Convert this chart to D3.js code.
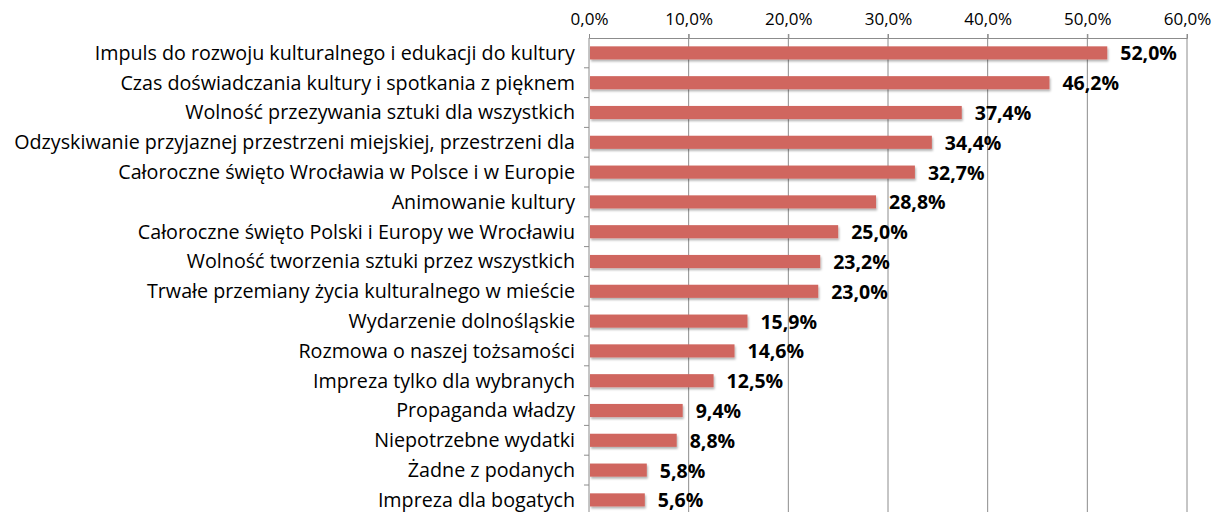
<!DOCTYPE html>
<html>
<head>
<meta charset="utf-8">
<script src="https://cdn.jsdelivr.net/npm/d3@7"></script>
<style>
  body { margin: 0; background: #fff; }
  text { font-family: "Open Sans", sans-serif; }
</style>
</head>
<body>
<script>
// categories and values
var categories = [
    "Impuls do rozwoju kulturalnego i edukacji do kultury",
    "Czas doświadczania kultury i spotkania z pięknem",
    "Wolność przezywania sztuki dla wszystkich",
    "Odzyskiwanie przyjaznej przestrzeni miejskiej, przestrzeni dla",
    "Całoroczne święto Wrocławia w Polsce i w Europie",
    "Animowanie kultury",
    "Całoroczne święto Polski i Europy we Wrocławiu",
    "Wolność tworzenia sztuki przez wszystkich",
    "Trwałe przemiany życia kulturalnego w mieście",
    "Wydarzenie dolnośląskie",
    "Rozmowa o naszej tożsamości",
    "Impreza tylko dla wybranych",
    "Propaganda władzy",
    "Niepotrzebne wydatki",
    "Żadne z podanych",
    "Impreza dla bogatych"
];
var values = [52.0, 46.2, 37.4, 34.4, 32.7, 28.8, 25.0, 23.2, 23.0, 15.9, 14.6, 12.5, 9.4, 8.8, 5.8, 5.6];
var tickValues = [0, 10, 20, 30, 40, 50, 60];

var fmt = function (v) { return v.toFixed(1).replace(".", ",") + "%"; };

// set the dimensions and margins of the graph
var margin = {top: 38, right: 26, bottom: 0, left: 589},
    width = 1187 - margin.left,
    height = 16 * 29.8;

var x = d3.scaleLinear().domain([0, 60]).range([0, width]);
var y = d3.scaleBand().domain(categories).range([0, height]).paddingInner(0.56).paddingOuter(0.28);

var svg = d3.select("body").append("svg")
    .attr("width", 1213)
    .attr("height", 512)
    .append("g")
    .attr("transform", "translate(" + margin.left + "," + margin.top + ")");

// gridlines
svg.append("g")
    .selectAll("line")
    .data(tickValues.slice(1))
    .enter().append("line")
    .attr("x1", d => x(d)).attr("x2", d => x(d))
    .attr("y1", -4).attr("y2", height)
    .attr("stroke", "#8c8c8c")
    .attr("stroke-width", 1);

// top axis
var xAxis = d3.axisTop(x).tickValues(tickValues).tickFormat(fmt).tickSize(4).tickPadding(9);
var gx = svg.append("g").attr("class", "x axis").call(xAxis);
gx.select(".domain").attr("stroke", "#8c8c8c");
gx.selectAll(".tick line").attr("stroke", "#8c8c8c");
gx.selectAll(".tick text").attr("font-size", "17px").attr("fill", "#000")
    .style("font-family", "'Open Sans', sans-serif");

// left axis with category labels
var step = y.step();
var gy = svg.append("g").attr("class", "y axis");
gy.append("line")
    .attr("x1", 0).attr("x2", 0).attr("y1", 0).attr("y2", height)
    .attr("stroke", "#8c8c8c");
gy.selectAll(".cat-tick")
    .data(d3.range(1, categories.length))
    .enter().append("line")
    .attr("x1", -5).attr("x2", 0)
    .attr("y1", d => d * step).attr("y2", d => d * step)
    .attr("stroke", "#8c8c8c");
gy.selectAll(".cat")
    .data(categories)
    .enter().append("text")
    .attr("x", -14)
    .attr("y", d => y(d) + y.bandwidth() / 2)
    .attr("dy", "0.35em")
    .attr("text-anchor", "end")
    .attr("font-size", "19.7px")
    .attr("fill", "#000")
    .text(d => d);

// shadow filter
var defs = svg.append("defs");
var f = defs.append("filter").attr("id", "sh").attr("x", "-5%").attr("y", "-30%").attr("width", "110%").attr("height", "180%");
f.append("feDropShadow").attr("dx", 1).attr("dy", 2).attr("stdDeviation", 1.2).attr("flood-color", "#000").attr("flood-opacity", 0.3);

// bars
svg.selectAll(".bar")
    .data(values)
    .enter().append("rect")
    .attr("x", 1)
    .attr("y", (d, i) => y(categories[i]))
    .attr("width", d => x(d) - 1)
    .attr("height", y.bandwidth())
    .attr("fill", "#d0665f")
    .attr("filter", "url(#sh)");

// value labels
svg.selectAll(".val")
    .data(values)
    .enter().append("text")
    .attr("x", d => x(d) + 13)
    .attr("y", (d, i) => y(categories[i]) + y.bandwidth() / 2)
    .attr("dy", "0.38em")
    .attr("font-size", "19.5px")
    .attr("font-weight", "bold")
    .attr("fill", "#000")
    .text(fmt);
</script>
</body>
</html>
